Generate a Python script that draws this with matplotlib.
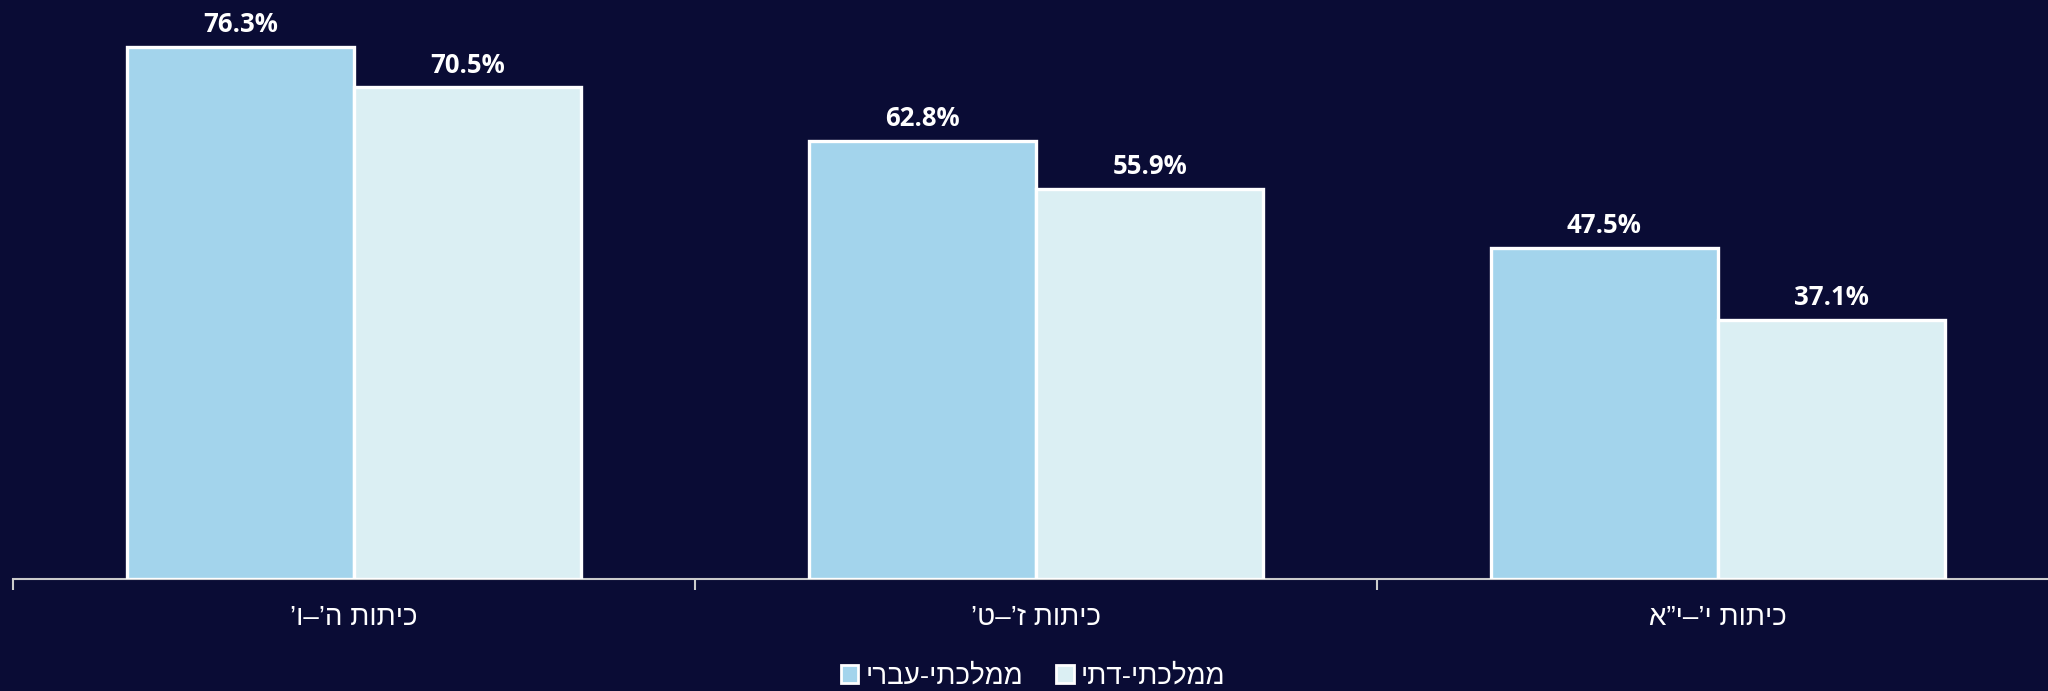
import matplotlib
matplotlib.use("Agg")
import matplotlib.pyplot as plt
from matplotlib.patches import Patch
import numpy as np

categories = ["כיתות ה’–ו’", "כיתות ז’–ט’", "כיתות י’–י”א"]
series_names = ["ממלכתי-עברי", "ממלכתי-דתי"]
hebrew_values = [76.3, 62.8, 47.5]
religious_values = [70.5, 55.9, 37.1]

BG = "#0a0c35"
C1 = "#a3d4ec"
C2 = "#dbeff3"

def rtl(s):
    return s[::-1]

fig = plt.figure(figsize=(20.48, 6.91), dpi=100, facecolor=BG)
ax = fig.add_axes([13/2048, (691-578.6)/691, 2046/2048, 578.6/691])
ax.set_facecolor(BG)

x = np.arange(len(categories))
w = 1/3
b1 = ax.bar(x - w/2, hebrew_values, w, color=C1, edgecolor="white", linewidth=2.4, zorder=3)
b2 = ax.bar(x + w/2, religious_values, w, color=C2, edgecolor="white", linewidth=2.4, zorder=3)

lab_font = dict(family=["Liberation Sans Narrow", "Open Sans", "DejaVu Sans"], weight="bold", size=18.5, color="white")
for bars, vals in ((b1, hebrew_values), (b2, religious_values)):
    for r, v in zip(bars, vals):
        ax.annotate(f"{v:.1f}%", (r.get_x() + r.get_width()/2, v), xytext=(0, 16),
                    textcoords="offset points", ha="center", va="center", **lab_font)

ax.set_xlim(-0.5, 2.5)
ax.set_ylim(0, 83.05)
ax.set_xticks([-0.5, 0.5, 1.5, 2.5])
ax.set_xticklabels([])
ax.set_xticks(x, minor=True)
ax.set_xticklabels([rtl(c) for c in categories], minor=True,
                   fontdict=dict(family=["Liberation Sans", "DejaVu Sans"], size=20, color="white"))
ax.tick_params(axis="x", which="minor", length=0, pad=19)
ax.tick_params(axis="x", which="major", length=8, width=1.5, color="#cccccc", direction="out")
ax.set_yticks([])
for s in ["top", "right", "left"]:
    ax.spines[s].set_visible(False)
ax.spines["bottom"].set_color("#cccccc")
ax.spines["bottom"].set_linewidth(1.5)
ax.spines["bottom"].set_zorder(2)

handles = [Patch(facecolor=C1, edgecolor="white", linewidth=2),
           Patch(facecolor=C2, edgecolor="white", linewidth=2)]
fig.legend(handles, [rtl(s) for s in series_names], loc="center", bbox_to_anchor=(0.5045, 1 - 677/691),
           ncol=2, frameon=False, handlelength=0.62, handleheight=0.62, handletextpad=0.25,
           columnspacing=1.2, prop=dict(family=["Liberation Sans", "DejaVu Sans"], size=20),
           labelcolor="white")

fig.savefig("out.png", dpi=100, facecolor=BG)
